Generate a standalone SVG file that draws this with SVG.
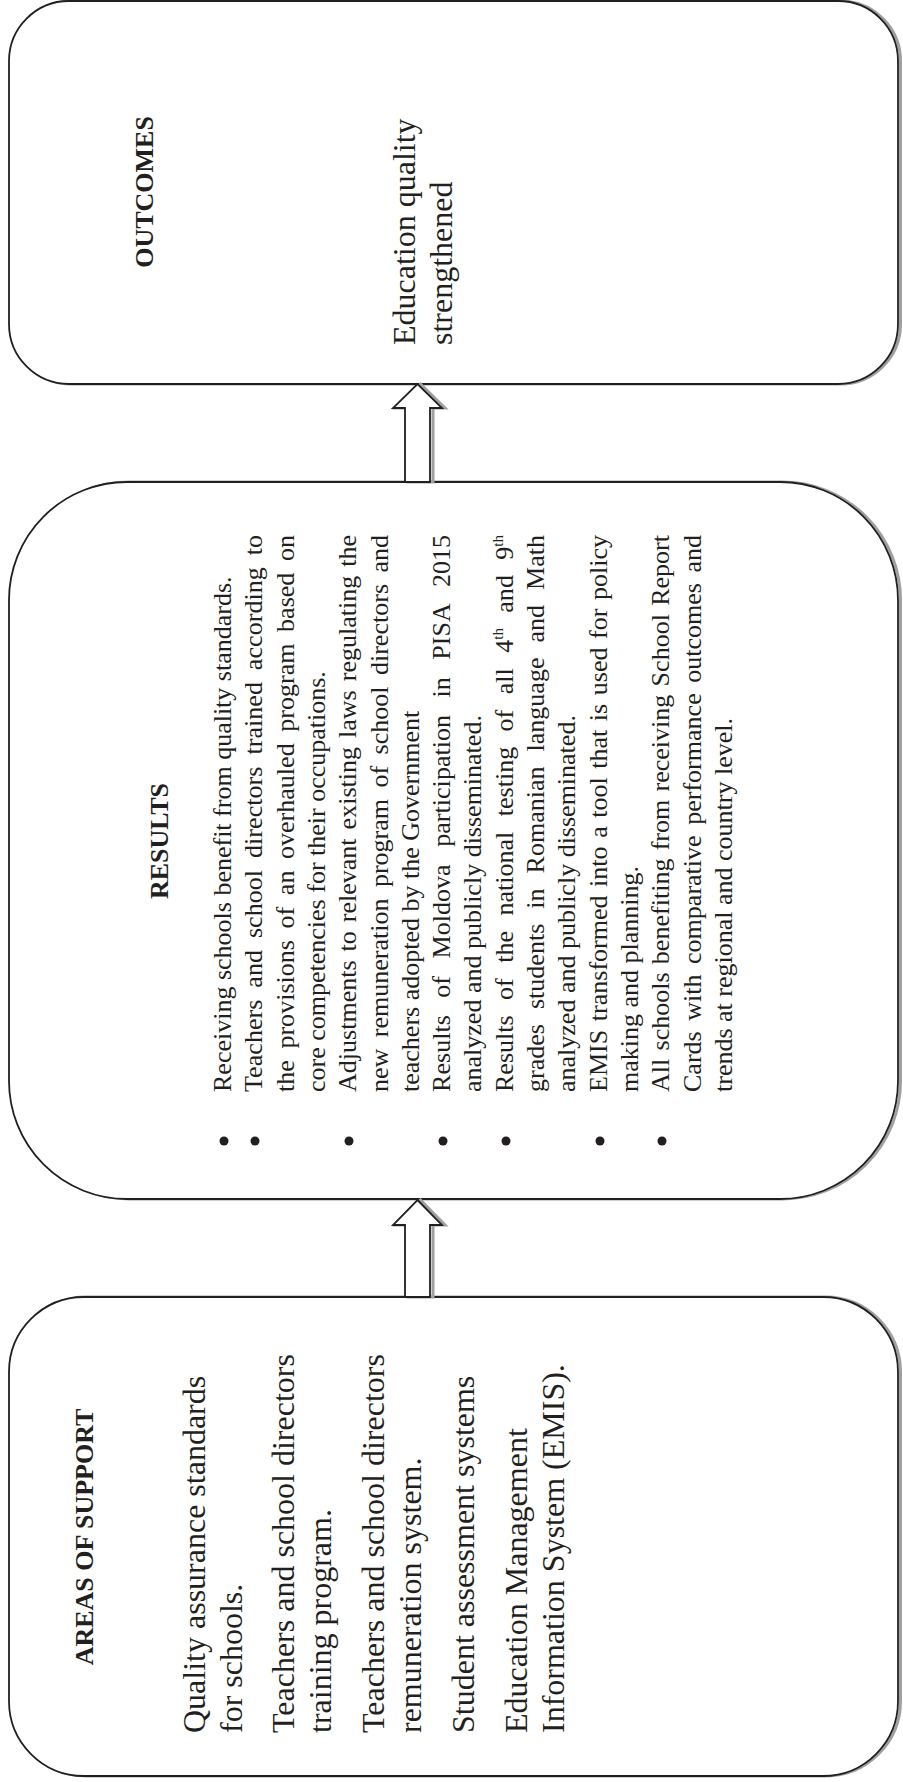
<svg xmlns="http://www.w3.org/2000/svg" width="903" height="1782" viewBox="0 0 903 1782">
<style>
.bg{fill:#ffffff}
.box{fill:#ffffff;stroke:#231f20;stroke-width:1.8}
.shadow{fill:none;stroke:#a0a0a0;stroke-width:3}
.t{font-family:"Liberation Serif","Times New Roman",serif;fill:#231f20}
.h{font-weight:bold;font-size:26px}
.b{font-size:32px}
.r{font-size:26px}
.dot{fill:#231f20}
</style>
<rect class="bg" x="0" y="0" width="903" height="1782"/>

<g id="outcomes">
<rect class="shadow" x="11.5" y="1" width="889" height="383" rx="60" ry="60"/>
<rect class="box" x="9" y="1" width="889" height="383" rx="60" ry="60"/>
<g transform="rotate(-90)">
<text class="t h" x="-192" y="153" text-anchor="middle">OUTCOMES</text>
<text class="t b" x="-345" y="415">Education quality</text>
<text class="t b" x="-345" y="452">strengthened</text>
</g>
</g>

<g id="results">
<rect class="shadow" x="11.5" y="482" width="889" height="717" rx="118" ry="118"/>
<rect class="box" x="9" y="482" width="889" height="717" rx="118" ry="118"/>
<circle class="dot" cx="224" cy="1141" r="4.5"/>
<circle class="dot" cx="255" cy="1141" r="4.5"/>
<circle class="dot" cx="349" cy="1141" r="4.5"/>
<circle class="dot" cx="443" cy="1141" r="4.5"/>
<circle class="dot" cx="506" cy="1141" r="4.5"/>
<circle class="dot" cx="600" cy="1141" r="4.5"/>
<circle class="dot" cx="662" cy="1141" r="4.5"/>
<g transform="rotate(-90)">
<text class="t h" x="-841" y="168" text-anchor="middle">RESULTS</text>
<text class="t r" x="-1092" y="231">Receiving schools benefit from quality standards.</text>
<text class="t r" x="-1092" y="262.3" word-spacing="5.4" textLength="557" lengthAdjust="spacing">Teachers and school directors trained according to</text>
<text class="t r" x="-1092" y="293.6" word-spacing="5.1" textLength="557" lengthAdjust="spacing">the provisions of an overhauled program based on</text>
<text class="t r" x="-1092" y="324.9">core competencies for their occupations.</text>
<text class="t r" x="-1092" y="356.2" word-spacing="2.5" textLength="557" lengthAdjust="spacing">Adjustments to relevant existing laws regulating the</text>
<text class="t r" x="-1092" y="387.5" word-spacing="4.9" textLength="557" lengthAdjust="spacing">new remuneration program of school directors and</text>
<text class="t r" x="-1092" y="418.8">teachers adopted by the Government</text>
<text class="t r" x="-1092" y="450.1" word-spacing="10.9" textLength="557" lengthAdjust="spacing">Results of Moldova participation in PISA 2015</text>
<text class="t r" x="-1092" y="481.4">analyzed and publicly disseminated.</text>
<text class="t r" x="-1092" y="512.7" word-spacing="8.9" textLength="557" lengthAdjust="spacing">Results of the national testing of all 4<tspan font-size="15" dy="-10">th</tspan><tspan dy="10"> and 9</tspan><tspan font-size="15" dy="-10">th</tspan></text>
<text class="t r" x="-1092" y="544" word-spacing="8.5" textLength="557" lengthAdjust="spacing">grades students in Romanian language and Math</text>
<text class="t r" x="-1092" y="575.3">analyzed and publicly disseminated.</text>
<text class="t r" x="-1092" y="606.6" word-spacing="2" textLength="557" lengthAdjust="spacing">EMIS transformed into a tool that is used for policy</text>
<text class="t r" x="-1092" y="637.9">making and planning.</text>
<text class="t r" x="-1092" y="669.2" word-spacing="1.7" textLength="557" lengthAdjust="spacing">All schools benefiting from receiving School Report</text>
<text class="t r" x="-1092" y="700.5" word-spacing="4" textLength="557" lengthAdjust="spacing">Cards with comparative performance outcomes and</text>
<text class="t r" x="-1092" y="731.8">trends at regional and country level.</text>
</g>
</g>

<g id="areas">
<rect class="shadow" x="11.5" y="1297" width="889" height="479" rx="75" ry="75"/>
<rect class="box" x="9" y="1297" width="889" height="479" rx="75" ry="75"/>
<g transform="rotate(-90)">
<text class="t h" x="-1537" y="93" text-anchor="middle">AREAS OF SUPPORT</text>
<text class="t b" x="-1733" y="205">Quality assurance standards</text>
<text class="t b" x="-1733" y="242">for schools.</text>
<text class="t b" x="-1733" y="294">Teachers and school directors</text>
<text class="t b" x="-1733" y="331">training program.</text>
<text class="t b" x="-1733" y="384">Teachers and school directors</text>
<text class="t b" x="-1733" y="421">remuneration system.</text>
<text class="t b" x="-1733" y="474">Student assessment systems</text>
<text class="t b" x="-1733" y="527">Education Management</text>
<text class="t b" x="-1733" y="564">Information System (EMIS).</text>
</g>
</g>

<g id="connectors">
<polygon class="shadow" points="420.5,384 445,408 433,408 433,482 408,482 408,408 396,408"/>
<polygon class="box" points="417.5,384 442,408 430,408 430,482 405,482 405,408 393,408"/>
<polygon class="shadow" points="420.5,1200 445,1225 433,1225 433,1297 408,1297 408,1225 396,1225"/>
<polygon class="box" points="417.5,1200 442,1225 430,1225 430,1297 405,1297 405,1225 393,1225"/>
</g>
</svg>
